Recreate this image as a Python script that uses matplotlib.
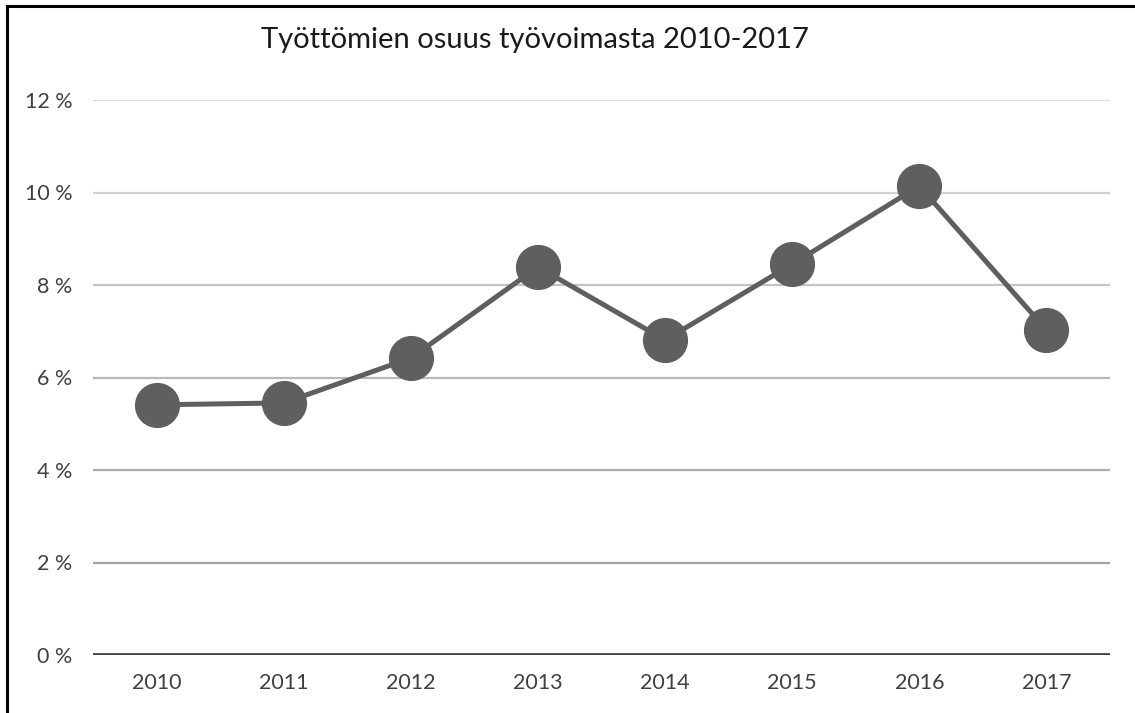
import matplotlib
matplotlib.use("Agg")
import matplotlib.pyplot as plt
from matplotlib.lines import Line2D

# data (percent)
years = ["2010", "2011", "2012", "2013", "2014", "2015", "2016", "2017"]
share = [5.41, 5.45, 6.42, 8.39, 6.81, 8.45, 10.14, 7.03]
y_ticks = [0, 2, 4, 6, 8, 10, 12]
grid_colors = ["#404040", "#a4a4a4", "#adadad", "#b8b8b8", "#c4c4c4", "#d0d0d0", "#dcdcdc"]

plt.rcParams['font.family'] = ['Lato', 'DejaVu Sans']

fig = plt.figure(figsize=(11.35, 7.13), dpi=100)
ax = fig.add_axes([93 / 1135, 1 - 655 / 713, (1110 - 93) / 1135, (655 - 100) / 713])

x = list(range(len(years)))
for t, c in zip(y_ticks, grid_colors):
    ax.axhline(t, color=c, lw=3.4 if t == 0 else 1.6, zorder=1)

ax.plot(x, share, color='#5f5f5f', lw=3.6, marker='o', markersize=31.5,
        markerfacecolor='#5f5f5f', markeredgecolor='#5f5f5f', zorder=3)

ax.set_xlim(-0.5, len(years) - 0.5)
ax.set_ylim(0, 12)
ax.set_xticks(x)
ax.set_xticklabels(years)
ax.set_yticks(y_ticks)
ax.set_yticklabels([f"{t} %" for t in y_ticks])
ax.tick_params(axis='both', length=0, labelsize=15.5, colors='#404040')
ax.tick_params(axis='y', pad=15)
ax.tick_params(axis='x', pad=13)
for s in ax.spines.values():
    s.set_visible(False)

fig.text(535 / 1135, 1 - 40 / 713, "Työttömien osuus työvoimasta 2010-2017",
         ha='center', va='center', fontsize=21, color='#1a1a1a')

# outer frame (top and left edges visible)
fig.add_artist(Line2D([7 / 1135, 1], [1 - 6 / 713, 1 - 6 / 713], color='black', lw=2.2))
fig.add_artist(Line2D([7 / 1135, 7 / 1135], [0, 1 - 6 / 713], color='black', lw=2.2))

fig.savefig("out.png", dpi=100)
